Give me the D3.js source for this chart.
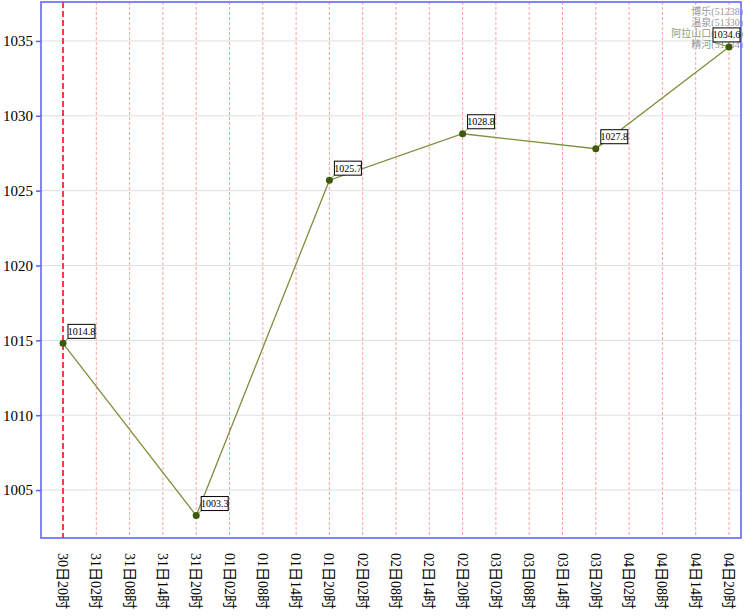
<!DOCTYPE html>
<html>
<head>
<meta charset="utf-8">
<script src="https://cdn.jsdelivr.net/npm/d3@7"></script>
<style>
  body { margin: 0; background: #fff; }
</style>
</head>
<body>
<div id="canvas"></div>
<script>
// time slots along the x axis
const categories = ["30日20时", "31日02时", "31日08时", "31日14时", "31日20时", "01日02时", "01日08时",
    "01日14时", "01日20时", "02日02时", "02日08时", "02日14时", "02日20时", "03日02时", "03日08时",
    "03日14时", "03日20时", "04日02时", "04日08时", "04日14时", "04日20时"];

// observed pressure (hPa), one per day
const obsTimes = ["30日20时", "31日20时", "01日20时", "02日20时", "03日20时", "04日20时"];
const obsValues = [1014.8, 1003.3, 1025.7, 1028.8, 1027.8, 1034.6];

const yTicks = [1005, 1010, 1015, 1020, 1025, 1030, 1035];

const stations = ["博乐(51238)", "温泉(51330)", "阿拉山口(51232)", "精河(51334)"];

const W = 746, H = 616;
const plotL = 41, plotR = 741, plotT = 2, plotB = 538;
const serif = "'Liberation Serif', 'Times New Roman', 'Noto Sans CJK SC', serif";

const svg = d3.select("#canvas")
    .append("svg")
    .attr("width", W)
    .attr("height", H)
    .attr("font-family", serif);

const x = d3.scalePoint()
    .domain(categories)
    .range([63, 729]);

const y = d3.scaleLinear()
    .domain([1001.8, 1037.6])
    .range([plotB, plotT]);

// horizontal grid
svg.append("g")
    .selectAll("line")
    .data(yTicks)
    .join("line")
    .attr("x1", plotL).attr("x2", plotR)
    .attr("y1", d => y(d)).attr("y2", d => y(d))
    .attr("stroke", "#e0e0e0")
    .attr("stroke-width", 1);

// vertical grid
svg.append("g")
    .selectAll("line")
    .data(categories)
    .join("line")
    .attr("x1", d => x(d)).attr("x2", d => x(d))
    .attr("y1", plotT).attr("y2", plotB)
    .attr("stroke", (d, i) => i === 0 ? "#ff3b3b" : "#ffa0a0")
    .attr("stroke-width", (d, i) => i === 0 ? 2 : 1)
    .attr("stroke-dasharray", (d, i) => i === 0 ? "6,3" : "3,2");

// frame
svg.append("rect")
    .attr("x", plotL).attr("y", plotT)
    .attr("width", plotR - plotL).attr("height", plotB - plotT)
    .attr("fill", "none")
    .attr("stroke", "#5b5bff")
    .attr("stroke-width", 1.5);

// y axis
const yAxis = svg.append("g")
    .attr("transform", `translate(${plotL},0)`)
    .call(d3.axisLeft(y).tickValues(yTicks).tickSize(5).tickFormat(d3.format("d")))
    .attr("font-family", serif)
    .attr("font-size", 15);
yAxis.select(".domain").remove();
yAxis.selectAll(".tick line").attr("stroke", "#5b5bff").attr("stroke-width", 1.5);
yAxis.selectAll(".tick text")
    .attr("x", -8)
    .attr("fill", "#000");

// x labels, vertical
svg.append("g")
    .selectAll("text")
    .data(categories)
    .join("text")
    .attr("transform", d => `translate(${x(d)},553) rotate(90)`)
    .attr("dy", "0.35em")
    .attr("font-size", 14)
    .attr("fill", "#000")
    .text(d => d);

// station legend
svg.append("g")
    .selectAll("text")
    .data(stations)
    .join("text")
    .attr("x", 743)
    .attr("y", (d, i) => 15 + i * 11)
    .attr("text-anchor", "end")
    .attr("font-size", 10)
    .attr("fill", (d, i) => i === 2 ? "#8f9f72" : "#999")
    .text(d => d);

const pts = obsTimes.map((t, i) => ({ t: t, v: obsValues[i] }));

// line
svg.append("path")
    .datum(pts)
    .attr("fill", "none")
    .attr("stroke", "#7b8f3c")
    .attr("stroke-width", 1.3)
    .attr("d", d3.line()
        .x(d => x(d.t))
        .y(d => y(d.v)));

// value labels
const lab = svg.append("g")
    .selectAll("g")
    .data(pts)
    .join("g");

lab.each(function (d) {
    const g = d3.select(this);
    const px = x(d.t), py = y(d.v);
    const bw = 27, bh = 14;
    let bx = px + 5;
    if (bx + bw > plotR) bx = plotR - bw - 1;
    const by = py - 5 - bh;
    g.append("line")
        .attr("x1", px).attr("y1", py)
        .attr("x2", bx).attr("y2", by + bh)
        .attr("stroke", "#7b8f3c")
        .attr("stroke-width", 1);
    g.append("rect")
        .attr("x", bx).attr("y", by)
        .attr("width", bw).attr("height", bh)
        .attr("fill", "#fff")
        .attr("stroke", "#000")
        .attr("stroke-width", 1);
    g.append("text")
        .attr("x", bx + bw / 2).attr("y", by + bh / 2)
        .attr("dy", "0.35em")
        .attr("text-anchor", "middle")
        .attr("font-size", 10)
        .attr("fill", "#000")
        .text(d.v.toFixed(1));
});

// points
svg.append("g")
    .selectAll("circle")
    .data(pts)
    .join("circle")
    .attr("cx", d => x(d.t))
    .attr("cy", d => y(d.v))
    .attr("r", 3.5)
    .attr("fill", "#3d5a0c");
</script>
</body>
</html>
